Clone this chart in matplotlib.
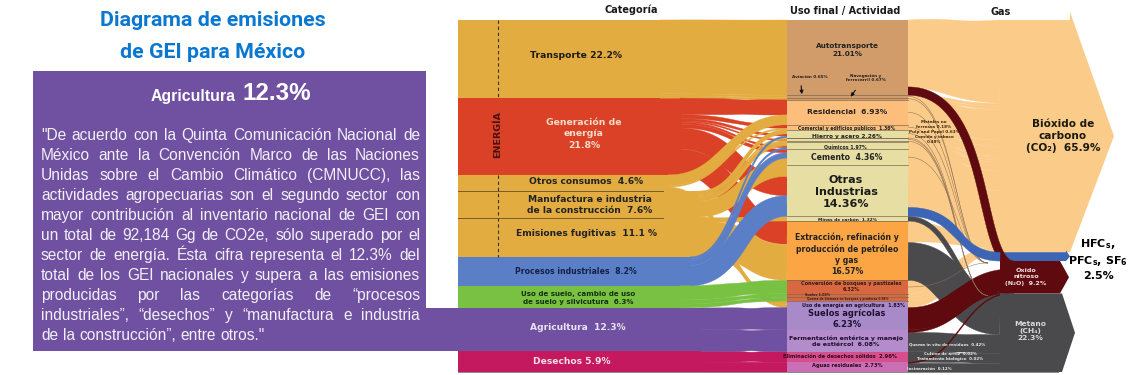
import numpy as np
import matplotlib
matplotlib.use('Agg')
import matplotlib.pyplot as plt
from matplotlib.patches import Rectangle

# Category column (percent of national total)
categorias = ['Transporte', 'Generacion', 'Otros', 'Manufactura', 'Fugitivas', 'Procesos', 'Suelo', 'Agricultura', 'Desechos']
cat_valores = [22.2, 21.8, 4.6, 7.6, 11.1, 8.2, 6.3, 12.3, 5.9]
cat_colores = ['#E2AC41', '#DA4127', '#E2AC41', '#E2AC41', '#E2AC41', '#5B7FC7', '#79C143', '#7051A1', '#C4185F']
cat_inicio = [660, 680, 668, 698, 710, 690, 680, 700, 700]

# Final use column
usos = ['Auto', 'Avia', 'Nave', 'Resi', 'Come', 'Hier', 'Meta', 'Pulp', 'Comi', 'Quim', 'Ceme', 'Otras', 'Minas',
        'Extr', 'Conv', 'Sue', 'Quema', 'Ener', 'Sagr', 'Ferm', 'Elim', 'Agua']
uso_valores = [21.01, 0.65, 0.67, 6.93, 1.36, 2.26, 0.18, 0.63, 0.48, 1.97, 4.36, 14.36, 1.32,
               16.57, 3.7, 1.08, 1.0, 1.83, 6.23, 6.08, 2.96, 2.73]
uso_colores = ['#D29C6A', '#D29C6A', '#D29C6A', '#FDBE7B', '#FDBE7B', '#E7DEA3', '#E7DEA3', '#E7DEA3', '#E7DEA3', '#E7DEA3', '#E7DEA3', '#E7DEA3', '#E7DEA3',
               '#FBA544', '#D9673F', '#D9673F', '#D9673F', '#A88AC9', '#A88AC9', '#B48BCB', '#D64E8C', '#C96FB5']

# Gas column
gases = ['CO2', 'F', 'N2O', 'CH4']
gas_valores = [65.9, 2.5, 9.2, 22.3]
gas_colores = ['#FBCB8A', '#3D65B3', '#5E0A0E', '#4A4A4C']

# category -> use, estimated from ribbon widths
flujos_cat = [
  ('Transporte', 'Auto', 21.01), ('Transporte', 'Avia', 0.65), ('Transporte', 'Nave', 0.67),
  ('Generacion', 'Resi', 4.2), ('Otros', 'Resi', 2.73),
  ('Generacion', 'Come', 1.0), ('Otros', 'Come', 0.36),
  ('Manufactura', 'Hier', 1.2), ('Generacion', 'Hier', 0.6), ('Procesos', 'Hier', 0.46),
  ('Manufactura', 'Meta', 0.18),
  ('Manufactura', 'Pulp', 0.3), ('Generacion', 'Pulp', 0.33),
  ('Manufactura', 'Comi', 0.48),
  ('Manufactura', 'Quim', 1.0), ('Generacion', 'Quim', 0.5), ('Procesos', 'Quim', 0.47),
  ('Generacion', 'Ceme', 0.96), ('Procesos', 'Ceme', 1.5), ('Manufactura', 'Ceme', 1.9),
  ('Manufactura', 'Otras', 3.2), ('Generacion', 'Otras', 5.4), ('Procesos', 'Otras', 5.77),
  ('Fugitivas', 'Minas', 1.32),
  ('Generacion', 'Extr', 6.5), ('Manufactura', 'Extr', 0.29), ('Fugitivas', 'Extr', 9.78),
  ('Suelo', 'Conv', 3.7), ('Suelo', 'Sue', 1.08), ('Suelo', 'Quema', 1.0),
  ('Otros', 'Ener', 1.0), ('Fugitivas', 'Ener', 0.83),
  ('Agricultura', 'Sagr', 6.23), ('Agricultura', 'Ferm', 6.08),
  ('Desechos', 'Elim', 2.96), ('Desechos', 'Agua', 2.73),
]

# use -> gas, estimated the same way
flujos_gas = [
  ('Auto', 'CO2', 18.7), ('Auto', 'N2O', 2.31),
  ('Avia', 'CO2', 0.65), ('Nave', 'CO2', 0.67), ('Resi', 'CO2', 6.93), ('Come', 'CO2', 1.36),
  ('Hier', 'CO2', 2.26), ('Meta', 'CO2', 0.18), ('Pulp', 'CO2', 0.63), ('Comi', 'CO2', 0.48),
  ('Quim', 'CO2', 1.97), ('Ceme', 'CO2', 4.36),
  ('Otras', 'CO2', 11.86), ('Otras', 'F', 2.5),
  ('Minas', 'CH4', 1.32),
  ('Extr', 'CO2', 6.0), ('Extr', 'CH4', 10.57),
  ('Conv', 'CO2', 3.7), ('Sue', 'CO2', 1.08), ('Quema', 'CO2', 1.0), ('Ener', 'CO2', 1.83),
  ('Sagr', 'N2O', 6.23),
  ('Ferm', 'N2O', 0.7), ('Ferm', 'CH4', 5.38),
  ('Elim', 'CH4', 2.96),
  ('Agua', 'N2O', 0.28), ('Agua', 'CH4', 2.45),
]

# lower uses enter the CO2 arrow squeezed under the blue ribbon
comprimidos = ['Extr', 'Conv', 'Sue', 'Quema', 'Ener']
# first and last ribbons keep the outer edge of the chart straight
sin_pinza = ['Auto', 'Agua', 'Desechos']

# hairlines running from small uses down to the other gases
trazas = [('Avia', 'N2O'), ('Nave', 'N2O'), ('Resi', 'N2O'), ('Come', 'N2O'), ('Hier', 'CH4'),
          ('Meta', 'CH4'), ('Pulp', 'CH4'), ('Comi', 'CH4'), ('Ceme', 'N2O'), ('Conv', 'N2O')]

parrafo = [
  '"De acuerdo con la Quinta Comunicación Nacional de',
  'México ante la Convención Marco de las Naciones',
  'Unidas sobre el Cambio Climático (CMNUCC), las',
  'actividades agropecuarias son el segundo sector con',
  'mayor contribución al inventario nacional de GEI con',
  'un total de 92,184 Gg de CO2e, sólo superado por el',
  'sector de energía. Ésta cifra representa  el 12.3% del',
  'total de los GEI nacionales y supera a las emisiones',
  'producidas por las categorías de “procesos',
  'industriales”, “desechos” y “manufactura e industria',
  'de la construcción”, entre otros."',
]

sans = 'Liberation Sans'
Y0, Y1 = 20, 372
X_CAT, X_USO, X_USO2, X_GAS = 458, 787, 908, 1000


def pila(valores):
  v = np.array(valores, dtype=float)
  esc = (Y1 - Y0) / v.sum()
  tops = Y0 + np.r_[0, np.cumsum(v)[:-1]] * esc
  return tops, v * esc


def cinta(x0, y0, w0, x1, y1, w1, color, z, c1=0.5, c2=0.5, lw=0.3, pinza=0.7):
  t = np.linspace(0, 1, 90)
  cx0 = x0 + c1 * (x1 - x0)
  cx1 = x1 - c2 * (x1 - x0)
  xs = (1-t)**3*x0 + 3*(1-t)**2*t*cx0 + 3*(1-t)*t**2*cx1 + t**3*x1
  ys = (1-t)**3*y0 + 3*(1-t)**2*t*y0 + 3*(1-t)*t**2*y1 + t**3*y1
  dx, dy = np.gradient(xs), np.gradient(ys)
  n = np.hypot(dx, dy)
  w = (w0 + (w1 - w0) * t) / 2
  # ribbons pull apart a little mid-way, that leaves the thin white slits
  w = w - np.minimum(pinza, 0.2 * w) * np.exp(-((t - 0.62) / 0.14)**2)
  xa, ya = xs - dy/n*w, ys + dx/n*w
  xb, yb = xs + dy/n*w, ys - dx/n*w
  ax.fill(np.r_[xa, xb[::-1]], np.r_[ya, yb[::-1]], color=color, lw=lw, zorder=z)


fig = plt.figure(figsize=(11.46, 3.75), dpi=100)
ax = fig.add_axes([0, 0, 1, 1])
ax.set_xlim(0, 1146)
ax.set_ylim(375, 0)
ax.axis('off')

cat_top, cat_h = pila(cat_valores)
uso_top, uso_h = pila(uso_valores)
gas_top, gas_h = pila(gas_valores)

# left panel
ax.add_patch(Rectangle((33, 71), 393, 280, color='#7051A1', lw=0, zorder=1))
ax.add_patch(Rectangle((426, cat_top[7]), X_CAT - 426, cat_h[7], color='#7051A1', lw=0, zorder=1))
for lin, y in zip(['Diagrama de emisiones', 'de GEI para México'], [21, 52]):
  ax.text(213, y, lin, color='#0A77D0', fontsize=15.4, fontweight='bold', family='Roboto', ha='center', va='center')
ax.text(236, 96, 'Agricultura', color='white', fontsize=11.4, fontweight='bold', family=sans, ha='right', va='center')
ax.text(242, 93, '12.3%', color='white', fontsize=17.5, fontweight='bold', family=sans, ha='left', va='center')


def justificada(linea, y, x0=41, x1=420, final=False):
  palabras = linea.split()
  r = fig.canvas.get_renderer()
  ts = [ax.text(0, y, p, color='#F2EFF6', fontsize=11.2, family=sans, va='center', zorder=5) for p in palabras]
  anchos = [t.get_window_extent(r).width for t in ts]
  esp = 4.4 if final else (x1 - x0 - sum(anchos)) / (len(ts) - 1)
  x = x0
  for t, a in zip(ts, anchos):
    t.set_x(x)
    x += a + esp


fig.canvas.draw()
for i, lin in enumerate(parrafo):
  justificada(lin, 135.5 + i * 20.05, final=i == len(parrafo) - 1)

# category blocks
for i in range(len(categorias)):
  ax.add_patch(Rectangle((X_CAT, cat_top[i]), cat_inicio[i] - X_CAT + 1, cat_h[i], color=cat_colores[i], lw=0, zorder=2))

# category -> use ribbons
sum_cat = {c: sum(f[2] for f in flujos_cat if f[0] == c) for c in categorias}
sum_uso = {u: sum(f[2] for f in flujos_cat if f[1] == u) for u in usos}
pos_cat = dict(zip(categorias, cat_top))
pos_uso = dict(zip(usos, uso_top))
alto_cat = dict(zip(categorias, cat_h))
alto_uso = dict(zip(usos, uso_h))
orden = ['Transporte', 'Generacion', 'Fugitivas', 'Manufactura', 'Otros', 'Desechos', 'Agricultura', 'Suelo', 'Procesos']
for c, u, v in flujos_cat:
  i = categorias.index(c)
  w0 = v / sum_cat[c] * alto_cat[c]
  w1 = v / sum_uso[u] * alto_uso[u]
  p = 0 if u in sin_pinza else 0.7
  cinta(cat_inicio[i], pos_cat[c] + w0/2, w0, X_USO, pos_uso[u] + w1/2, w1, cat_colores[i], 3 + orden.index(c) * 0.1, pinza=p)
  pos_cat[c] += w0
  pos_uso[u] += w1

# use -> gas ribbons
def peso(u, g, v):
  return v * 0.15 if g == 'CO2' and u in comprimidos else v


sum_gas = {g: sum(peso(*f) for f in flujos_gas if f[1] == g) for g in gases}
sum_uso2 = {u: sum(f[2] for f in flujos_gas if f[0] == u) for u in usos}
pos_uso2 = dict(zip(usos, uso_top))
pos_gas = dict(zip(gases, gas_top))
alto_gas = dict(zip(gases, gas_h))
z_gas = {'CO2': 3, 'CH4': 3.3, 'N2O': 3.5, 'F': 3.7}
for u, g, v in flujos_gas:
  w0 = v / sum_uso2[u] * alto_uso[u]
  w1 = peso(u, g, v) / sum_gas[g] * alto_gas[g]
  col = gas_colores[gases.index(g)]
  x1 = X_GAS + 14 if g == 'N2O' else X_GAS
  c = (0.8, 0.35) if u == 'Auto' and g == 'N2O' else (0.6, 0.5) if g == 'F' else (0.5, 0.5)
  p = 0 if u in sin_pinza else 0.7
  cinta(X_USO2, pos_uso2[u] + w0/2, w0, x1, pos_gas[g] + w1/2, w1, col, z_gas[g], *c, pinza=p)
  pos_uso2[u] += w0
  pos_gas[g] += w1

for u, g in trazas:
  i = usos.index(u)
  j = gases.index(g)
  cinta(X_USO2, uso_top[i] + uso_h[i]/2, 0.5, X_GAS - 12, gas_top[j] + 2, 0.5, '#8A6D52', 3.6, 0.6, 0.4, lw=0)

# gas arrows
fin = [1070, 1066, 1060, 1062]
punta = [1114, 1070, 1069, 1075]
sobre = [8, 2, 0, 0]
for i in range(len(gases)):
  t, b = gas_top[i], gas_top[i] + gas_h[i]
  xs = [X_GAS, fin[i], fin[i], punta[i], fin[i], X_GAS]
  ys = [t, t, t - sobre[i], (t + b) / 2, b, b]
  ax.fill(xs, ys, color=gas_colores[i], lw=0, zorder=2.9 + i * 0.3)

# use boxes
for i in range(len(usos)):
  ax.add_patch(Rectangle((X_USO, uso_top[i]), X_USO2 - X_USO, uso_h[i], color=uso_colores[i], lw=0, zorder=6))
  if 0 < i < 18:
    ax.plot([X_USO, X_USO2], [uso_top[i], uso_top[i]], color='#7A6A55', lw=0.5, zorder=6.5)

# energy marker and separators
ax.plot([497.5, 497.5], [Y0, cat_top[1]], color='#333333', lw=0.8, ls=(0, (3, 2.5)), zorder=7)
ax.plot([497.5, 497.5], [cat_top[2], cat_top[5]], color='#333333', lw=0.8, ls=(0, (3, 2.5)), zorder=7)
ax.text(497.5, 135, 'ENERGÍA', rotation=90, color='#4A1010', fontsize=6.8, fontweight='bold', ha='center', va='center', zorder=7)
for k in [3, 4]:
  ax.plot([X_CAT, 663], [cat_top[k], cat_top[k]], color='#7A5A30', lw=0.7, zorder=7)
ax.plot([X_CAT, 1058], [Y1, Y1], color='#888888', lw=0.7, zorder=7)

# headings
for x, y, s in [(631, 10, 'Categoría'), (845, 11, 'Uso final / Actividad'), (1001, 12, 'Gas')]:
  ax.text(x, y, s, fontsize=7.0, fontweight='bold', color='#1A1A1A', ha='center', va='center')


def rot(x, y, s, size=6.5, col='#222222', z=8):
  ax.text(x, y, s, fontsize=size, fontweight='bold', color=col, ha='center', va='center', zorder=z, linespacing=1.3)


# category labels
rot(576, 55, 'Transporte 22.2%', 6.7, '#1E1A14')
rot(584, 134, 'Generación de\nenergía\n21.8%', 6.7, '#F5DCCB')
rot(586, 182, 'Otros consumos  4.6%', 6.6)
rot(590, 205, 'Manufactura e industria\nde la construcción  7.6%', 6.6)
rot(586, 234, 'Emisiones fugitivas  11.1 %', 6.6)
rot(576, 271, 'Procesos industriales  8.2%', 5.6, '#14204A')
rot(578, 298, 'Uso de suelo, cambio de uso\nde suelo y silvicutura  6.3%', 5.1, '#14300A')
rot(578, 328, 'Agricultura  12.3%', 6.6, '#E9E3F2')
rot(572, 362, 'Desechos 5.9%', 6.6, '#F7DDE8')

# use labels
rot(847, 50, 'Autotransporte\n21.01%', 5.2)
rot(810, 77, 'Aviación 0.65%', 3.0)
rot(866, 78, 'Navegación y\nferrocarril 0.67%', 3.0)
rot(847, 112.5, 'Residencial  6.93%', 5.4)
rot(847, 128.5, 'Comercial y edificios públicos  1.36%', 3.3)
rot(847, 136.5, 'Hierro y acero 2.26%', 4.2)
rot(845, 147.5, 'Químicos 1.97%', 3.4)
rot(847, 158, 'Cemento  4.36%', 5.6)
rot(846, 192, 'Otras\nIndustrias\n14.36%', 8.0, '#1A1A1A')
rot(847, 220, 'Minas de carbón  1.32%', 3.2)
rot(847, 254, 'Extracción, refinación y\nproducción de petróleo\ny gas\n16.57%', 5.6)
rot(851, 286, 'Conversión de bosques y pastizales\n6.32%', 3.6, '#3A1A10')
rot(818, 295.3, 'Suelos 1.08%', 2.4, '#3A1A10')
rot(848, 299.3, 'Quema de biomasa en bosques y praderas 0.98%', 2.1, '#3A1A10')
rot(853, 305, 'Uso de energía en agricultura  1.83%', 3.5, '#1E1030')
rot(847, 319, 'Suelos agrícolas\n6.23%', 6.0, '#1E1030')
rot(846, 341, 'Fermentación entérica y manejo\nde estiércol  6.08%', 4.5, '#1E1030')
rot(840, 356.5, 'Eliminación de desechos sólidos  2.96%', 3.7, '#300A1E')
rot(847, 366, 'Aguas residuales  2.73%', 3.7, '#300A1E')

# small side notes
rot(934, 132, 'Metales no\nferrosos 0.18%\nPulp and Papel 0.63%\nComida y tabaco\n0.48%', 3.0, '#3A2A10')
rot(947, 344, 'Quema in situ de residuos  0.42%', 2.9, '#E8E8E8')
rot(950, 354, 'Cultivo de arroz  0.02%', 2.9, '#E8E8E8')
rot(950, 359, 'Tratamiento biológico  0.02%', 2.9, '#E8E8E8')
rot(929, 369, 'Incineración  0.12%', 2.9, '#E8E8E8')

# arrows to the thin boxes
for a, b in [((801, 83), (802, 97)), ((857, 88), (849, 99))]:
  ax.annotate('', xy=b, xytext=a, zorder=9, arrowprops=dict(arrowstyle='-|>', color='#111111', lw=0.8, mutation_scale=5))

# gas labels
rot(1063, 136, 'Bióxido de\ncarbono\n(CO₂)  65.9%', 7.6, '#1A1A10')
rot(1098, 259, 'HFC$_{\\mathbf{s}}$,\nPFC$_{\\mathbf{s}}$, SF$_{\\mathbf{6}}$\n2.5%', 8.0, '#000000')
rot(1026, 277, 'Óxido\nnitroso\n(N₂O)  9.2%', 4.6, '#F0E0E0')
rot(1030, 331, 'Metano\n(CH₄)\n22.3%', 5.4, '#D8D8D8')

fig.savefig('out.png', dpi=100)
